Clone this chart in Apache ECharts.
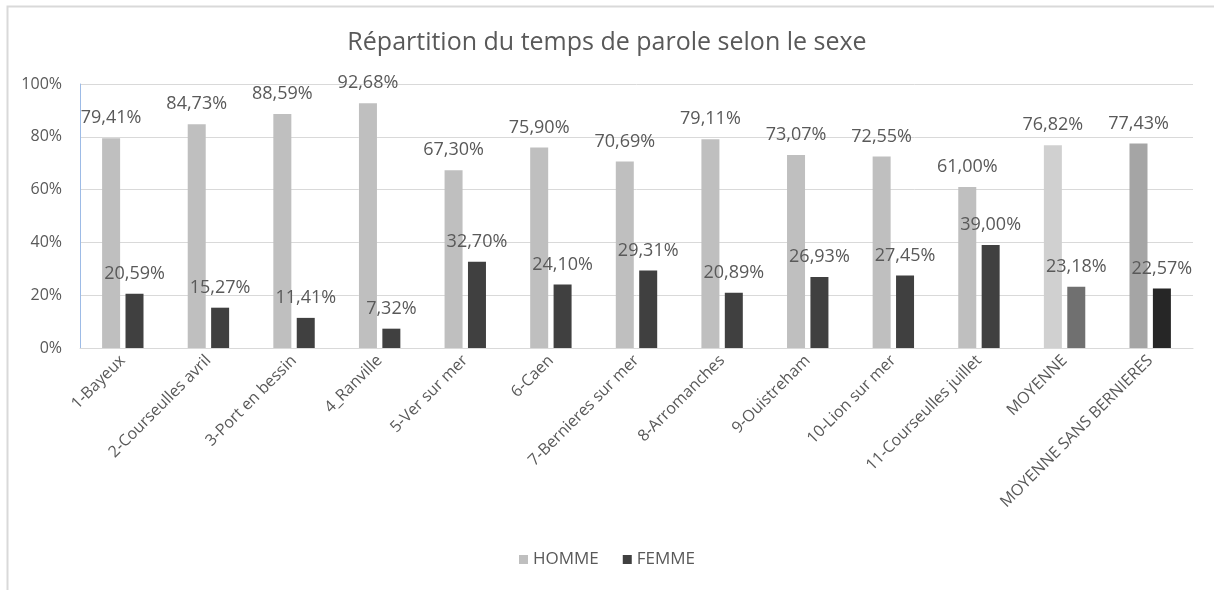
<!DOCTYPE html>
<html>
<head>
<meta charset="utf-8">
<script src="https://cdn.jsdelivr.net/npm/echarts@6/dist/echarts.min.js"></script>
<style>html,body{margin:0;padding:0;background:#fff;}#c{width:1214px;height:590px;}</style>
</head>
<body>
<div id="c"></div>
<script>
const categories = ['1-Bayeux','2-Courseulles avril','3-Port en bessin','4_Ranville','5-Ver sur mer','6-Caen','7-Bernieres sur mer','8-Arromanches','9-Ouistreham','10-Lion sur mer','11-Courseulles juillet','MOYENNE','MOYENNE SANS BERNIERES'];
const homme = [79.41, 84.73, 88.59, 92.68, 67.30, 75.90, 70.69, 79.11, 73.07, 72.55, 61.00, 76.82, 77.43];
const femme = [20.59, 15.27, 11.41, 7.32, 32.70, 24.10, 29.31, 20.89, 26.93, 27.45, 39.00, 23.18, 22.57];
const yTicks = [0, 20, 40, 60, 80, 100];

const hommeColors = {11: '#d0d0d0', 12: '#a5a5a5'};
const femmeColors = {11: '#707070', 12: '#262626'};
const FONT = '"Open Sans", "Noto Sans", sans-serif';
const TXT = '#595959';
const fmt = v => v.toFixed(2).replace('.', ',') + '%';

const chart = echarts.init(document.getElementById('c'));
chart.setOption({
  animation: false,
  textStyle: {fontFamily: FONT},
  title: {
    text: 'Répartition du temps de parole selon le sexe',
    left: 'center', top: 25,
    textStyle: {fontFamily: FONT, fontSize: 25, fontWeight: 'normal', color: TXT}
  },
  graphic: [{
    type: 'rect', left: 5, top: 4, silent: true,
    shape: {width: 1300, height: 700},
    style: {fill: 'none', stroke: '#d9d9d9', lineWidth: 2}
  }],
  legend: {
    bottom: 17, left: 'center',
    itemWidth: 9, itemHeight: 9, itemGap: 24,
    icon: 'rect',
    textStyle: {fontFamily: FONT, fontSize: 17, color: TXT},
    data: [{name: 'HOMME', itemStyle: {color: '#bfbfbf'}}, {name: 'FEMME', itemStyle: {color: '#404040'}}]
  },
  grid: {left: 80, right: 21, top: 84, bottom: 242},
  xAxis: {
    type: 'category', data: categories,
    axisLine: {lineStyle: {color: '#d9d9d9'}},
    axisTick: {show: false},
    axisLabel: {rotate: 45, interval: 0, fontSize: 16, color: TXT, fontFamily: FONT, margin: 10}
  },
  yAxis: {
    type: 'value', min: yTicks[0], max: yTicks[yTicks.length-1], interval: 20,
    axisLine: {show: true, lineStyle: {color: '#9dbbe6'}},
    axisTick: {show: false},
    splitLine: {lineStyle: {color: '#d9d9d9'}},
    axisLabel: {formatter: v => v + '%', fontSize: 16, color: TXT, fontFamily: FONT, margin: 18}
  },
  series: [
    {
      name: 'HOMME', type: 'bar', barWidth: 18, barGap: '30%',
      data: homme.map((v, i) => ({value: v, itemStyle: {color: hommeColors[i] || '#bfbfbf'}})),
      itemStyle: {color: '#bfbfbf'},
      label: {show: true, position: 'top', distance: 11, formatter: p => fmt(p.value), fontSize: 18, color: TXT, fontFamily: FONT}
    },
    {
      name: 'FEMME', type: 'bar', barWidth: 18,
      data: femme.map((v, i) => ({value: v, itemStyle: {color: femmeColors[i] || '#404040'}})),
      itemStyle: {color: '#404040'},
      label: {show: true, position: 'top', distance: 11, formatter: p => fmt(p.value), fontSize: 18, color: TXT, fontFamily: FONT}
    }
  ]
});
</script>
</body>
</html>
